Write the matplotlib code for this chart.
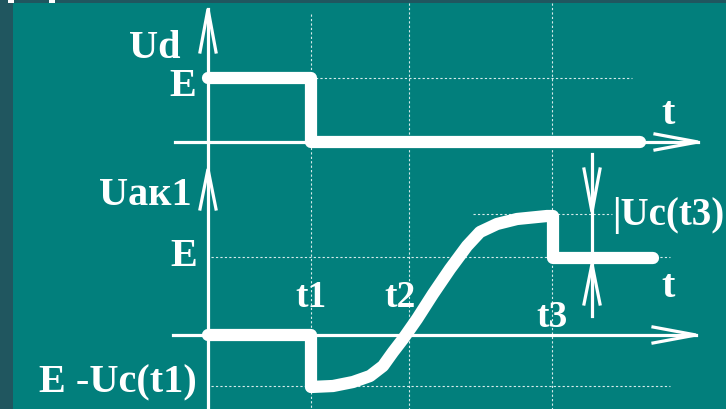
import matplotlib
matplotlib.use("Agg")
import matplotlib.pyplot as plt
from matplotlib.patches import Rectangle

# ---- data (diagram coordinates, x to the right, y downward) ----
ud_x = [208, 311, 311, 640]
ud_y = [79, 79, 143, 143]

uak_x = [208, 311, 311, 333, 353, 370, 383, 393, 403, 417, 433, 450, 467, 480, 497, 517, 547, 553, 553, 653]
uak_y = [336, 336, 388, 387, 383, 377, 367, 353, 340, 320, 295, 270, 247, 233, 225, 220, 217, 217, 259, 259]

grid_v_x = [311, 409, 552]
grid_v_top = [15, 4, 4]
grid_h_y = [79, 215, 258, 387]
grid_h_x0 = [311, 473, 211, 211]
grid_h_x1 = [632, 612, 670, 670]

labels = ["Ud", "E", "t", "Uaк1", "E", "t1", "t2", "t3", "t", "E -Uc(t1)", "|Uc(t3)"]
label_x = [180, 196, 668, 192, 197, 311, 400, 552, 668, 197, 612]
label_y = [58, 96, 124, 205, 266, 307, 307, 327, 297, 392, 225]
label_ha = ["right", "right", "center", "right", "right", "center", "center", "center", "center", "right", "left"]
label_size = [29, 29, 29, 29, 29, 27, 27, 27, 29, 29, 28]

TEAL = "#027f7c"
DARK = "#20565f"
W = "white"

fig = plt.figure(figsize=(7.26, 4.10), dpi=100, facecolor=DARK)
ax = fig.add_axes([0, 0, 1, 1])
ax.set_xlim(0, 726)
ax.set_ylim(410, 0)
ax.axis("off")
ax.set_facecolor(DARK)

ax.add_patch(Rectangle((13, 4), 726 - 13, 410 - 4, facecolor=TEAL, edgecolor="none", zorder=0))
ax.add_patch(Rectangle((8, 0), 6, 3.5, facecolor=W, edgecolor="none", zorder=0))
ax.add_patch(Rectangle((49, 0), 6, 3.5, facecolor=W, edgecolor="none", zorder=0))

# dotted grid
for x, y0 in zip(grid_v_x, grid_v_top):
    ax.plot([x, x], [y0, 410], color=W, lw=0.8, ls=(0, (2, 2)), alpha=0.85, zorder=1)
for y, x0, x1 in zip(grid_h_y, grid_h_x0, grid_h_x1):
    ax.plot([x0, x1], [y, y], color=W, lw=0.8, ls=(0, (2, 2)), alpha=0.85, zorder=1)

# axes lines
AX_LW = 2.3
ax.plot([208, 208], [10, 410], color=W, lw=AX_LW, zorder=2)
ax.plot([175, 698], [143, 143], color=W, lw=AX_LW, zorder=2)
ax.plot([173, 696], [336, 336], color=W, lw=AX_LW, zorder=2)

def arrow_head(tx, ty, dx, dy, L=43, s=8):
    # tip at (tx,ty), direction (dx,dy) unit
    bx, by = tx - dx * L, ty - dy * L
    px, py = -dy, dx
    ax.plot([bx + px * s, tx, bx - px * s], [by + py * s, ty, by - py * s],
            color=W, lw=AX_LW, solid_joinstyle="miter", zorder=2)

arrow_head(208, 10, 0, -1)
arrow_head(208, 170, 0, -1, L=40)
arrow_head(698, 143, 1, 0)
arrow_head(696, 336, 1, 0)

# Uc(t3) marker arrows
ax.plot([592, 592], [155, 317], color=W, lw=AX_LW, zorder=2)
arrow_head(592, 213, 0, 1)
arrow_head(592, 265, 0, -1, L=40)

# waveforms
for xs, ys in [(ud_x, ud_y), (uak_x, uak_y)]:
    ax.plot(xs, ys, color=W, lw=8.8, solid_joinstyle="round", solid_capstyle="round", zorder=3)

for s, x, y, ha, fs in zip(labels, label_x, label_y, label_ha, label_size):
    ax.text(x, y, s, color=W, fontsize=fs, fontweight="bold", family=["Liberation Serif", "DejaVu Serif"],
            ha=ha, va="baseline", zorder=4)

fig.savefig("out.png", dpi=100, facecolor=DARK)
